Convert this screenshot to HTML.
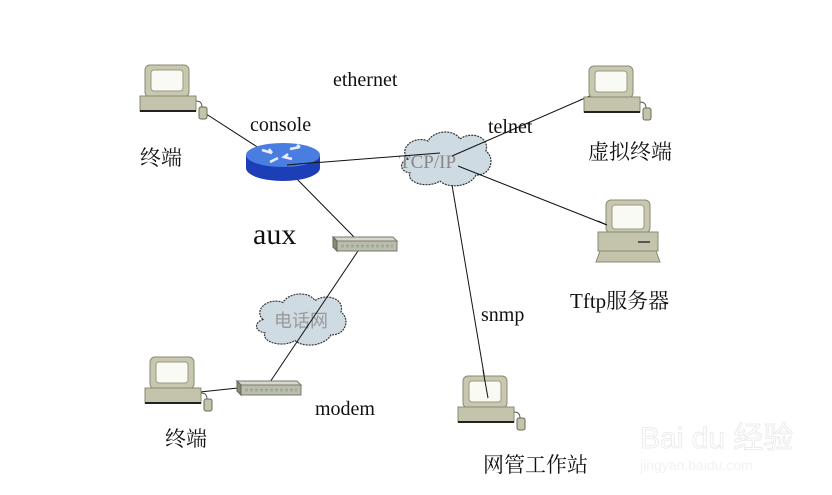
<!DOCTYPE html>
<html><head><meta charset="utf-8"><style>
html,body{margin:0;padding:0;background:#fff;}
svg{display:block}
text{font-family:"Liberation Serif","Noto Serif CJK SC",serif;fill:#111}
.cn{font-family:"Liberation Serif","Noto Serif CJK SC",serif}
</style></head><body>
<svg width="832" height="495" viewBox="0 0 832 495" xmlns="http://www.w3.org/2000/svg">
<defs>
<g id="term">
  <rect x="5" y="0" width="44" height="32" rx="5" fill="#c8c8b0" stroke="#8a8a72" stroke-width="1"/>
  <rect x="11" y="5" width="32" height="21" rx="3" fill="#fafaf4" stroke="#9a9a84" stroke-width="1"/>
  <rect x="0" y="31" width="56" height="15" fill="#c4c4ac" stroke="#8a8a72" stroke-width="1"/>
  <rect x="0" y="45" width="56" height="2" fill="#222"/>
  <path d="M56 36 q6 0 6 6" stroke="#555" fill="none"/>
  <rect x="59" y="42" width="8" height="12" rx="2" fill="#c4c4ac" stroke="#6a6a58"/>
</g>
<g id="modem">
  <polygon points="0,0 60,0 64,4 4,4" fill="#d8d8c6" stroke="#777"/>
  <rect x="4" y="4" width="60" height="10" fill="#bebea6" stroke="#777"/>
  <polygon points="0,0 4,4 4,14 0,10" fill="#8a8a72" stroke="#666"/>
  <line x1="8" y1="9" x2="60" y2="9" stroke="#9aa" stroke-dasharray="3 2" stroke-width="3"/>
</g>
<g id="cloud">
  <path d="M10,28 C0,18 15,4 30,10 C35,0 55,-3 62,8 C72,0 92,5 88,20 C98,28 92,45 78,44 C72,56 50,58 42,50 C30,58 8,52 12,42 C0,40 2,30 10,28 Z" fill="#cfdbe2" stroke="#333" stroke-dasharray="2 1" stroke-width="1.2"/>
</g>
</defs>

<!-- clouds -->
<g transform="translate(398,131)"><use href="#cloud"/></g>
<g transform="translate(253,293) scale(1.0,0.95)"><use href="#cloud"/></g>
<text x="399" y="168" font-size="19" style="fill:#888">TCP/IP</text>
<text x="274" y="327" font-size="18" class="cn" style="fill:#999;font-family:'Liberation Sans','Noto Sans CJK SC',sans-serif">电话网</text>

<!-- connectors -->
<g stroke="#111" stroke-width="1" fill="none">
  <line x1="200" y1="110" x2="262" y2="150"/>
  <line x1="287" y1="165" x2="440" y2="153"/>
  <line x1="452" y1="156" x2="592" y2="95"/>
  <line x1="458" y1="166" x2="607" y2="225"/>
  <line x1="452" y1="185" x2="488" y2="398"/>
  <line x1="290" y1="172" x2="357" y2="240"/>
  <line x1="358" y1="251" x2="270" y2="382"/>
  <line x1="200" y1="392" x2="238" y2="388"/>
</g>

<!-- router -->
<g>
  <path d="M246,156 L246,168 A37,13 0 0 0 320,168 L320,156 Z" fill="#1c3fb8"/>
  <ellipse cx="283" cy="155" rx="37" ry="12" fill="#4a7de0"/>
  <path d="M262,150 l10,3 m0,0 l-3,-4 M290,149 l10,-2 m0,0 l-3,-2 M270,162 l8,-4 M292,159 l-8,-2 l4,-3" stroke="#e8eeff" stroke-width="2.5" fill="none"/>
</g>
<line x1="287" y1="165" x2="320" y2="162" stroke="#111"/>

<!-- terminals -->
<g transform="translate(140,65)"><use href="#term"/></g>
<g transform="translate(584,66)"><use href="#term"/></g>
<g transform="translate(145,357)"><use href="#term"/></g>
<g transform="translate(458,376)"><use href="#term"/></g>

<!-- server -->
<g transform="translate(598,200)">
  <rect x="8" y="0" width="44" height="33" rx="5" fill="#c8c8b0" stroke="#8a8a72"/>
  <rect x="14" y="5" width="32" height="24" rx="3" fill="#fafaf4" stroke="#9a9a84"/>
  <rect x="0" y="32" width="60" height="19" fill="#c4c4ac" stroke="#8a8a72"/>
  <rect x="40" y="41" width="12" height="2" fill="#555"/>
  <polygon points="2,51 58,51 62,62 -2,62" fill="#c4c4ac" stroke="#8a8a72"/>
</g>
<line x1="598" y1="221" x2="607" y2="225" stroke="#111"/>

<!-- modems -->
<g transform="translate(333,237)"><use href="#modem"/></g>
<g transform="translate(237,381)"><use href="#modem"/></g>
<line x1="488" y1="398" x2="483" y2="370" stroke="#111"/>

<!-- labels -->
<text x="333" y="86" font-size="20">ethernet</text>
<text x="250" y="131" font-size="20">console</text>
<text x="488" y="133" font-size="20">telnet</text>
<text x="253" y="244" font-size="30">aux</text>
<text x="481" y="321" font-size="20">snmp</text>
<text x="315" y="415" font-size="20">modem</text>
<text x="570" y="308" font-size="21">Tftp<tspan class="cn">服务器</tspan></text>
<text x="140" y="165" font-size="21" class="cn">终端</text>
<text x="165" y="446" font-size="21" class="cn">终端</text>
<text x="588" y="159" font-size="21" class="cn">虚拟终端</text>
<text x="483" y="472" font-size="21" class="cn">网管工作站</text>

<!-- watermark -->
<text x="640" y="448" font-size="30" style="font-family:'Liberation Sans','Noto Sans CJK SC',sans-serif;fill:none;stroke:#ececec;stroke-width:1">Bai du 经验</text>
<text x="640" y="470" font-size="14" style="font-family:'Liberation Sans',sans-serif;fill:#f2f2f2">jingyan.baidu.com</text>
</svg>
</body></html>
